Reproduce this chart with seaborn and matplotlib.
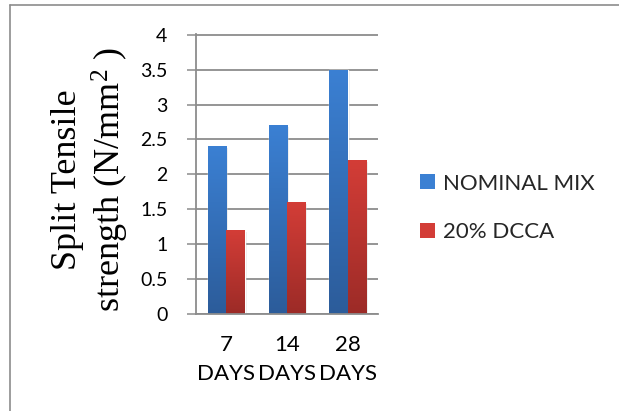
import numpy as np
import pandas as pd
import matplotlib
matplotlib.use("Agg")
import matplotlib.pyplot as plt
import seaborn as sns
from matplotlib.colors import LinearSegmentedColormap
from matplotlib.patches import Patch
from matplotlib.lines import Line2D
import matplotlib.patheffects as pe

# Split tensile strength by curing age
ages = ["7\nDAYS", "14\nDAYS", "28\nDAYS"]
nominal_mix = [2.4, 2.7, 3.5]
dcca_20 = [1.2, 1.6, 2.2]
series_names = ["NOMINAL MIX", "20% DCCA"]
y_ticks = [0, 0.5, 1, 1.5, 2, 2.5, 3, 3.5, 4]

df = pd.DataFrame({
    "age": ages * 2,
    "strength": nominal_mix + dcca_20,
    "mix": [series_names[0]] * len(ages) + [series_names[1]] * len(ages),
})

blue_top, blue_bottom = "#3b80d3", "#2c5c9a"
red_top, red_bottom = "#d33d37", "#9c2b27"
grid_gray = "#8c8c8c"

sns.set_theme(style="white")
plt.rcParams["font.family"] = ["Lato", "DejaVu Sans"]
plt.rcParams["mathtext.fontset"] = "custom"
plt.rcParams["mathtext.rm"] = "Liberation Serif"
plt.rcParams["mathtext.it"] = "Liberation Serif:italic"

fig = plt.figure(figsize=(6.19, 4.11), dpi=100)
ax = fig.add_axes([196 / 619, 1 - 314 / 411, (378 - 196) / 619, (314 - 34) / 411])

sns.barplot(data=df, x="age", y="strength", hue="mix",
            palette=[blue_top, red_top], width=0.6, gap=0,
            saturation=1, errorbar=None, legend=False, ax=ax)

# vertical gradient fill for each bar, dark at the base
cmaps = [LinearSegmentedColormap.from_list("b", [blue_bottom, blue_top]),
         LinearSegmentedColormap.from_list("r", [red_bottom, red_top])]
grad = np.linspace(0, 1, 256).reshape(-1, 1)
bars = [p for p in ax.patches if p.get_height() > 0]
n = len(ages)
for i, patch in enumerate(bars):
    cmap = cmaps[i // n]
    x0, y0 = patch.get_x(), patch.get_y()
    w, h = patch.get_width(), patch.get_height()
    patch.set_path_effects([pe.SimplePatchShadow(offset=(1.5, -1.0),
                                                 shadow_rgbFace="#999999",
                                                 alpha=0.18), pe.Normal()])
    im = ax.imshow(grad, cmap=cmap, extent=[x0, x0 + w, y0, y0 + h],
                   origin="lower", aspect="auto", zorder=patch.get_zorder() + 0.1,
                   interpolation="bilinear")
    im.set_clip_path(patch)

ax.set_xlim(-0.5, len(ages) - 0.5)
ax.set_ylim(0, 4.01)
ax.set_yticks(y_ticks)
ax.set_yticklabels([f"{v:g}" for v in y_ticks])
ax.set_xticks(range(len(ages)))
ax.set_xticklabels(ages, linespacing=1.6)
ax.yaxis.grid(True, color=grid_gray, lw=1.3)
ax.set_axisbelow(True)
ax.set_xlabel("")
ax.set_ylabel("")

for side in ["top", "right"]:
    ax.spines[side].set_visible(False)
for side in ["left", "bottom"]:
    ax.spines[side].set_color(grid_gray)
    ax.spines[side].set_linewidth(1.3)

ax.tick_params(axis="y", direction="out", length=6.5, width=1.1, color=grid_gray,
               pad=14, labelsize=14, labelcolor="black", left=True)
ax.tick_params(axis="x", length=0, pad=15, labelsize=16, labelcolor="black")

# y axis title in serif, two lines
fig.text(91 / 619, 1 - 180 / 411,
         "Split Tensile\nstrength (N/mm$^\\mathrm{2}$ )",
         rotation=90, ha="center", va="center", multialignment="center",
         fontsize=26, family=["Liberation Serif", "DejaVu Serif"], color="black")

handles = [Patch(facecolor=blue_top, edgecolor="none"),
           Patch(facecolor=red_top, edgecolor="none")]
fig.legend(handles, series_names, loc="center left",
           bbox_to_anchor=(420 / 619, 1 - 208 / 411), frameon=False,
           fontsize=16, handlelength=0.67, handleheight=0.67,
           handletextpad=0.36, labelspacing=1.3, borderaxespad=0, borderpad=0)

# chart frame lines
fig.add_artist(Line2D([10 / 619, 10 / 619], [0, 1 - 5 / 411],
                      transform=fig.transFigure, color=grid_gray, lw=1.2))
fig.add_artist(Line2D([10 / 619, 1], [1 - 5 / 411, 1 - 5 / 411],
                      transform=fig.transFigure, color=grid_gray, lw=1.2))

fig.savefig("out.png", dpi=100)
